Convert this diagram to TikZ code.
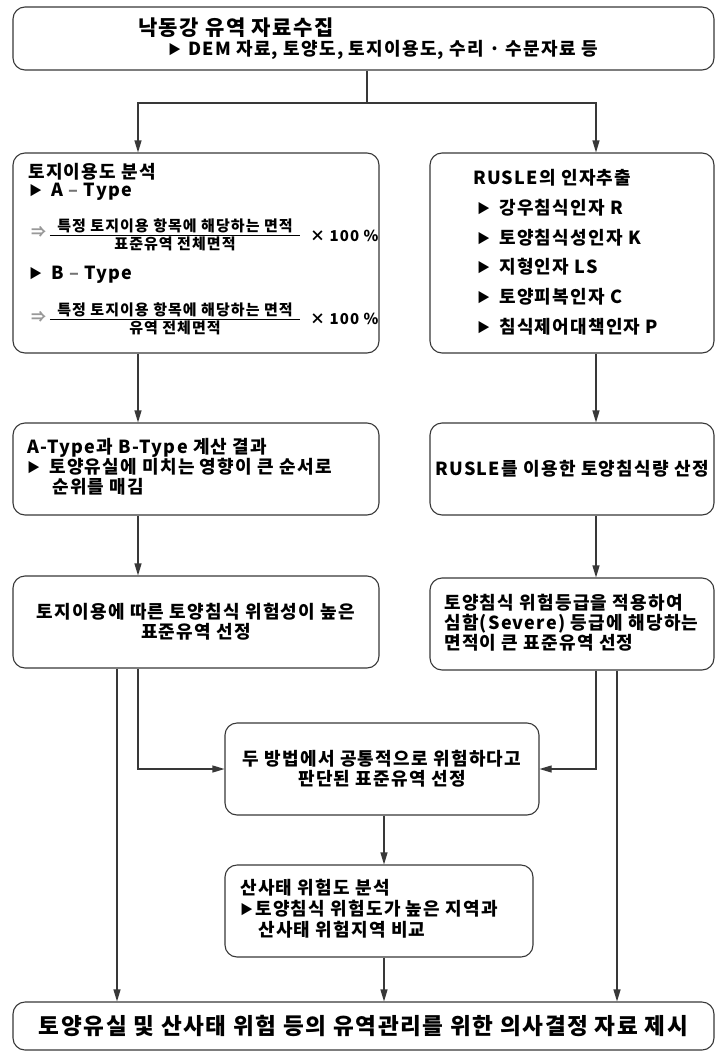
\documentclass[tikz,border=0pt]{standalone}
\usepackage{fontspec}
\setmainfont{Noto Sans CJK KR}[LetterSpace=7]
\usetikzlibrary{arrows.meta}
\newcommand\bul{\raisebox{1pt}{\fontsize{13}{13}\selectfont ▶}}
\begin{document}
\begin{tikzpicture}[x=1pt,y=-1pt,
    box/.style={draw=black!78, line width=1.1pt, rounded corners=12pt, inner sep=0pt},
    txt/.style={font=\bfseries\fontsize{18}{20}\selectfont, inner sep=0pt},
    frac/.style={font=\bfseries\fontsize{15}{17}\selectfont, inner xsep=0pt, inner ysep=2pt},
    arr/.style={draw=black!78, line width=1.1pt, -{Triangle[length=12pt,width=7pt]}}]
  \useasboundingbox (0,0) rectangle (716,1057);
  % boxes
  \node[box, minimum width=701, minimum height=63] (collect) at (363.5,38.5) {};
  \node[box, minimum width=366, minimum height=200] (landuse) at (196,253) {};
  \node[box, minimum width=284, minimum height=200] (rusle) at (572,253) {};
  \node[box, minimum width=366, minimum height=92] (result) at (196,469) {};
  \node[box, minimum width=284, minimum height=92, txt] (amount) at (572,469) {RUSLE를 이용한 토양침식량 산정};
  \node[box, minimum width=366, minimum height=92, txt, align=center] (riskland) at (196,622)
    {토지이용에 따른 토양침식 위험성이 높은\\표준유역 선정};
  \node[box, minimum width=284, minimum height=92] (severe) at (572,624) {};
  \node[box, minimum width=314, minimum height=92, txt, align=center] (common) at (382,769)
    {두 방법에서 공통적으로 위험하다고\\판단된 표준유역 선정};
  \node[box, minimum width=308, minimum height=92] (slide) at (379,911) {};
  \node[box, minimum width=701, minimum height=48, font=\bfseries\fontsize{22.6}{26}\selectfont] (final) at (363.5,1026)
    {토양유실 및 산사태 위험 등의 유역관리를 위한 의사결정 자료 제시};

  % texts
  \node[txt, font=\bfseries\fontsize{21}{22}\selectfont, anchor=west] (collectA) at (138,28) {낙동강 유역 자료수집};
  \node[txt, anchor=west] (collectB) at (168,50) {\bul\hspace{7pt}DEM 자료, 토양도, 토지이용도, 수리 · 수문자료 등};

  \node[txt, anchor=west] (luTitle) at (28,172) {토지이용도 분석};
  \node[txt, anchor=west] (luA) at (29,192) {\bul\hspace{9pt}A {\color{black!55}–} Type};
  \node[frac, anchor=west, text=black!40] (impA) at (31,232) {⇒};
  \node[frac, anchor=south, minimum width=250] (numA) at (175,235) {특정 토지이용 항목에 해당하는 면적};
  \node[frac, anchor=north] (denA) at (175,235) {표준유역 전체면적};
  \node[frac, anchor=west] (mulA) at (310,236) {× 100 \%};
  \node[txt, anchor=west] (luB) at (29,275) {\bul\hspace{9pt}B {\color{black!55}–} Type};
  \node[frac, anchor=west, text=black!40] (impB) at (31,317) {⇒};
  \node[frac, anchor=south, minimum width=250] (numB) at (175,319) {특정 토지이용 항목에 해당하는 면적};
  \node[frac, anchor=north] (denB) at (175,319) {유역 전체면적};
  \node[frac, anchor=west] (mulB) at (310,319) {× 100 \%};
  \draw[line width=0.9pt] (numA.south west) -- (numA.south east);
  \draw[line width=0.9pt] (numB.south west) -- (numB.south east);

  \node[txt, anchor=west] (rsTitle) at (473,178) {RUSLE의 인자추출};
  \node[txt, anchor=west] (rsR) at (477,208) {\bul\hspace{9pt}강우침식인자 R};
  \node[txt, anchor=west] (rsK) at (477,238) {\bul\hspace{9pt}토양침식성인자 K};
  \node[txt, anchor=west] (rsLS) at (477,267) {\bul\hspace{9pt}지형인자 LS};
  \node[txt, anchor=west] (rsC) at (477,297) {\bul\hspace{9pt}토양피복인자 C};
  \node[txt, anchor=west] (rsP) at (477,327) {\bul\hspace{9pt}침식제어대책인자 P};

  \node[txt, anchor=west, align=left] (resultT) at (27,467)
    {A-Type과 B-Type 계산 결과\\\bul\hspace{9pt}토양유실에 미치는 영향이 큰 순서로\\\hspace*{25pt}순위를 매김};
  \node[txt, anchor=west, align=left] (severeT) at (444,623)
    {토양침식 위험등급을 적용하여\\심함(Severe) 등급에 해당하는\\면적이 큰 표준유역 선정};
  \node[txt, font=\bfseries\fontsize{18}{21}\selectfont, anchor=west, align=left] (slideT) at (240,909)
    {산사태 위험도 분석\\\bul\hspace{2pt}토양침식 위험도가 높은 지역과\\\hspace*{18pt}산사태 위험지역 비교};

  % connectors
  \coordinate (split) at (367,103);
  \coordinate (lx) at (138,0);
  \coordinate (rx) at (596,0);
  \coordinate (lo) at (117,0);
  \coordinate (ro) at (617,0);
  \coordinate (mx) at (384,0);
  \draw[draw=black!78, line width=1.1pt] (collect.south -| split) -- (split);
  \draw[arr] (split) -| (landuse.north -| lx);
  \draw[arr] (split) -| (rusle.north -| rx);
  \draw[arr] (landuse.south -| lx) -- (result.north -| lx);
  \draw[arr] (result.south -| lx) -- (riskland.north -| lx);
  \draw[arr] (rusle.south -| rx) -- (amount.north -| rx);
  \draw[arr] (amount.south -| rx) -- (severe.north -| rx);
  \draw[arr] (riskland.south -| lx) |- (common.west);
  \draw[arr] (severe.south -| rx) |- (common.east);
  \draw[arr] (riskland.south -| lo) -- (final.north -| lo);
  \draw[arr] (severe.south -| ro) -- (final.north -| ro);
  \draw[arr] (common.south -| mx) -- (slide.north -| mx);
  \draw[arr] (slide.south -| mx) -- (final.north -| mx);
\end{tikzpicture}
\end{document}
